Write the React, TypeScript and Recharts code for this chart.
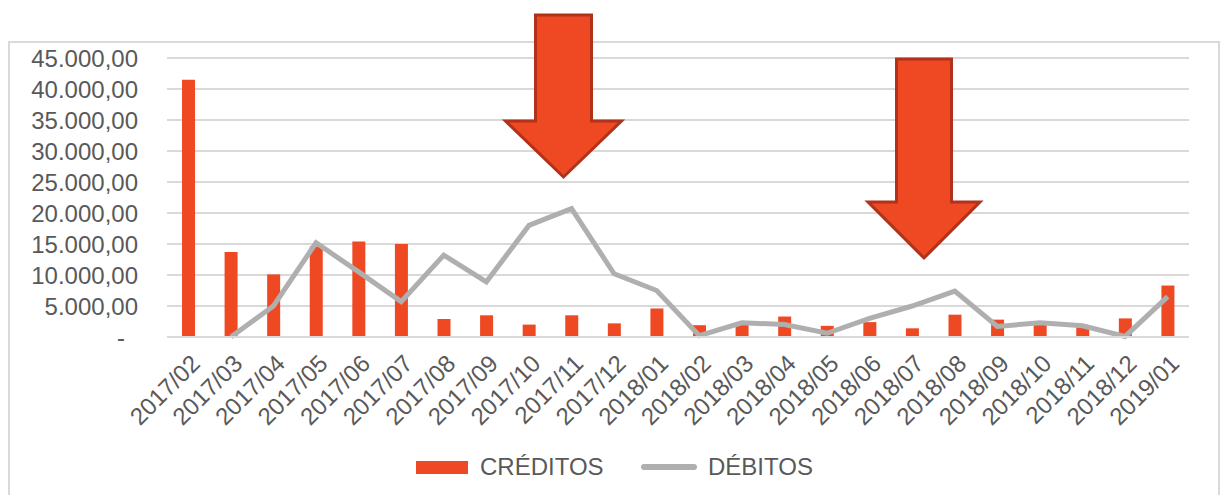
import React from 'react';
import { ComposedChart, Bar, Line, XAxis, YAxis, CartesianGrid } from 'recharts';

const months = [
  '2017/02', '2017/03', '2017/04', '2017/05', '2017/06', '2017/07', '2017/08', '2017/09',
  '2017/10', '2017/11', '2017/12', '2018/01', '2018/02', '2018/03', '2018/04', '2018/05',
  '2018/06', '2018/07', '2018/08', '2018/09', '2018/10', '2018/11', '2018/12', '2019/01',
];

const creditos = [
  41500, 13700, 10100, 14600, 15400, 15000, 2900, 3500,
  2000, 3500, 2200, 4600, 1900, 2100, 3300, 1800,
  2400, 1400, 3600, 2800, 2300, 1800, 3000, 8300,
];

const debitos = [
  null, 0, 5000, 15200, 10500, 5700, 13200, 8900,
  18000, 20700, 10200, 7500, 200, 2300, 2000, 600,
  3000, 5000, 7400, 1700, 2300, 1800, 100, 6500,
];

const yTicks = [0, 5000, 10000, 15000, 20000, 25000, 30000, 35000, 40000, 45000];

const data = months.map((m, i) => ({ month: m, creditos: creditos[i], debitos: debitos[i] }));

const FONT = '"Liberation Sans", Arial, sans-serif';
const TEXT = '#595959';
const RED = '#EF4923';
const GREY = '#AFAFAF';

const fmt = (v: number) =>
  Math.round(v).toString().replace(/\B(?=(\d{3})+(?!\d))/g, '.') + ',00';

const YTick = (props: any) => {
  const { x, y, payload } = props;
  const v = payload.value as number;
  return (
    <text
      x={x}
      y={y}
      dx={v === 0 ? -13 : 0}
      dy="0.36em"
      textAnchor="end"
      fill={TEXT}
      fontSize={24}
      fontFamily={FONT}
    >
      {v === 0 ? '-' : fmt(v)}
    </text>
  );
};

const XTick = (props: any) => {
  const { x, y, payload } = props;
  return (
    <g transform={`translate(${x + 1},${y + 2})`}>
      <text
        textAnchor="end"
        transform="rotate(-45)"
        dy="0.71em"
        fill={TEXT}
        fontSize={24}
        fontFamily={FONT}
      >
        {payload.value}
      </text>
    </g>
  );
};

// big annotation arrows drawn on top
const arrowPath = (cx: number, top: number, shaftW: number, headY: number, headW: number, tipY: number) =>
  `M${cx - shaftW / 2},${top} L${cx + shaftW / 2},${top} L${cx + shaftW / 2},${headY} ` +
  `L${cx + headW / 2},${headY} L${cx},${tipY} L${cx - headW / 2},${headY} L${cx - shaftW / 2},${headY} Z`;

export default function App() {
  return (
    <div style={{ position: 'absolute', left: 0, top: 0, width: 1224, height: 495, background: '#fff', overflow: 'hidden' }}>
      <div
        style={{
          position: 'absolute',
          left: 8,
          top: 41,
          width: 1208,
          height: 480,
          border: '2px solid #D9D9D9',
        }}
      />
      <div style={{ position: 'absolute', left: 0, top: 0 }}>
        <ComposedChart
          width={1224}
          height={495}
          data={data}
          margin={{ top: 58, right: 35, bottom: 58, left: 0 }}
          barCategoryGap={0}
        >
          <CartesianGrid vertical={false} stroke="#D9D9D9" strokeWidth={2} />
          <XAxis
            dataKey="month"
            interval={0}
            height={100}
            tickLine={false}
            axisLine={{ stroke: '#D9D9D9', strokeWidth: 2 }}
            tickMargin={8}
            tick={<XTick />}
          />
          <YAxis
            width={167}
            domain={[0, 45000]}
            ticks={yTicks}
            axisLine={false}
            tickLine={false}
            tickMargin={23}
            tick={<YTick />}
            interval={0}
          />
          <Bar dataKey="creditos" name="CRÉDITOS" fill={RED} barSize={13} isAnimationActive={false} />
          <Line
            dataKey="debitos"
            name="DÉBITOS"
            type="linear"
            stroke={GREY}
            strokeWidth={5}
            dot={false}
            activeDot={false}
            isAnimationActive={false}
          />
        </ComposedChart>
      </div>
      <svg width={1224} height={495} style={{ position: 'absolute', left: 0, top: 0, pointerEvents: 'none' }}>
        <path d={arrowPath(563.5, 15, 56, 121, 116, 177)} fill="#EF4923" stroke="#B2311A" strokeWidth={3} strokeLinejoin="miter" />
        <path d={arrowPath(924, 59, 55, 202, 112, 258)} fill="#EF4923" stroke="#B2311A" strokeWidth={3} strokeLinejoin="miter" />
      </svg>
      <div
        style={{
          position: 'absolute',
          left: 0,
          top: 452,
          width: 1224,
          height: 30,
          fontFamily: FONT,
          fontSize: 24,
          color: TEXT,
        }}
      >
        <div style={{ position: 'absolute', left: 416, top: 9, width: 52, height: 13, background: RED }} />
        <span style={{ position: 'absolute', left: 480, top: 0, lineHeight: '30px' }}>CRÉDITOS</span>
        <div style={{ position: 'absolute', left: 641, top: 12, width: 56, height: 6, background: GREY, borderRadius: 3 }} />
        <span style={{ position: 'absolute', left: 708, top: 0, lineHeight: '30px' }}>DÉBITOS</span>
      </div>
    </div>
  );
}
